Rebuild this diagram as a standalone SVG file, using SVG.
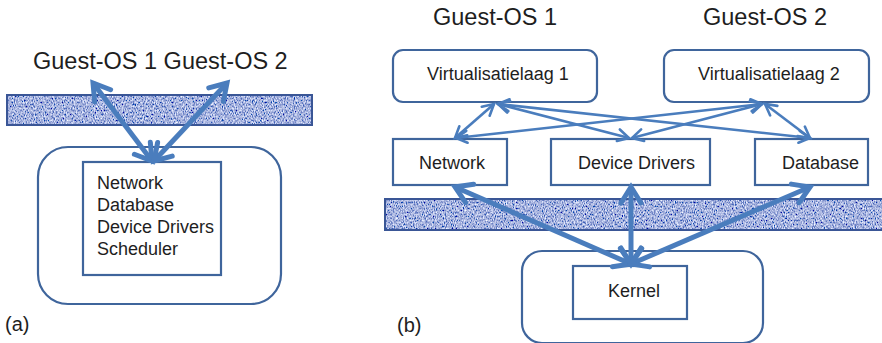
<svg xmlns="http://www.w3.org/2000/svg" width="882" height="343" viewBox="0 0 882 343">
  <style>
    text { font-family: "Liberation Sans", Arial, sans-serif; fill: #1e1e1e; }
    .lbl { font-size: 18px; }
    .big { font-size: 23.5px; }
    .box { fill: #ffffff; stroke: #3f659c; stroke-width: 2.2; }
    .layer { fill: #4f66b0; filter: url(#fabric); }
    .layer-edge { fill: none; stroke: #3a5696; stroke-width: 2; }
    .thick { fill: none; stroke: #4a7dbd; stroke-width: 5; marker-start: url(#headL); marker-end: url(#headL); }
    .thin { fill: none; stroke: #4a7dbd; stroke-width: 2.6; marker-start: url(#headS); marker-end: url(#headS); }
  </style>
  <defs>
    <!-- woven-looking texture for the isolation layers -->
    <filter id="fabric" x="0" y="0" width="100%" height="100%">
      <feTurbulence type="fractalNoise" baseFrequency="0.9 0.5" numOctaves="2" seed="7" result="noise"/>
      <feColorMatrix in="noise" type="matrix" values="1.6 0 0 0 -0.42  1.55 0 0 0 -0.33  1.15 0 0 0 0.15  0 0 0 0 1" result="tint"/>
      <feComposite in="tint" in2="SourceGraphic" operator="in"/>
    </filter>
    <marker id="headL" markerUnits="userSpaceOnUse" viewBox="-22 -14 26 28" refX="0" refY="0" markerWidth="26" markerHeight="28" orient="auto-start-reverse" overflow="visible">
      <path d="M-16,-10 L0,0 L-16,10" fill="none" stroke="#4a7dbd" stroke-width="5" stroke-linejoin="miter" stroke-linecap="round"/>
    </marker>
    <marker id="headS" markerUnits="userSpaceOnUse" viewBox="-14 -8 16 16" refX="0" refY="0" markerWidth="16" markerHeight="16" orient="auto-start-reverse" overflow="visible">
      <path d="M-11,-6 L0,0 L-11,6" fill="none" stroke="#4a7dbd" stroke-width="2.6" stroke-linejoin="miter" stroke-linecap="round"/>
    </marker>
  </defs>

  <!-- (a): monolithic kernel -->
  <g id="a-guests">
    <text class="big" x="33" y="69" font-size="24">Guest-OS 1 Guest-OS 2</text>
  </g>
  <g id="a-layer">
    <rect class="layer" x="7" y="95" width="305" height="30"/>
    <rect class="layer-edge" x="7" y="95" width="305" height="30"/>
  </g>
  <g id="a-host">
    <rect class="box" x="38" y="147" width="243" height="157" rx="30" ry="30"/>
  </g>
  <g id="a-services">
    <rect class="box" x="83" y="162" width="138" height="113"/>
    <text class="lbl" x="97" y="189">Network</text>
    <text class="lbl" x="97" y="211">Database</text>
    <text class="lbl" x="97" y="233">Device Drivers</text>
    <text class="lbl" x="97" y="255">Scheduler</text>
  </g>
  <g id="a-caption">
    <text x="5" y="331" font-size="20">(a)</text>
  </g>

  <!-- (b): per-guest virtualisation layers over shared services -->
  <g id="b-guest1">
    <text class="big" x="433" y="25">Guest-OS 1</text>
  </g>
  <g id="b-guest2">
    <text class="big" x="703" y="25">Guest-OS 2</text>
  </g>
  <g id="b-virt1">
    <rect class="box" x="393" y="50" width="204" height="52" rx="10" ry="10"/>
    <text class="lbl" x="427" y="80">Virtualisatielaag 1</text>
  </g>
  <g id="b-virt2">
    <rect class="box" x="664" y="50" width="205" height="52" rx="10" ry="10"/>
    <text class="lbl" x="698" y="80">Virtualisatielaag 2</text>
  </g>
  <g id="b-layer">
    <rect class="layer" x="385" y="199" width="500" height="31"/>
    <rect class="layer-edge" x="385" y="199" width="500" height="31"/>
  </g>
  <g id="b-network">
    <rect class="box" x="393" y="139" width="114" height="46"/>
    <text class="lbl" x="419" y="169">Network</text>
  </g>
  <g id="b-drivers">
    <rect class="box" x="551" y="139" width="159" height="46"/>
    <text class="lbl" x="578" y="169">Device Drivers</text>
  </g>
  <g id="b-database">
    <rect class="box" x="755" y="139" width="113" height="46"/>
    <text class="lbl" x="782" y="169">Database</text>
  </g>
  <g id="b-host">
    <rect class="box" x="522" y="251" width="241" height="92" rx="20" ry="20"/>
  </g>
  <g id="b-kernel">
    <rect class="box" x="573" y="266" width="114" height="53"/>
    <text class="lbl" x="608" y="297">Kernel</text>
  </g>
  <g id="b-caption">
    <text x="397" y="332" font-size="20">(b)</text>
  </g>

  <!-- connectors -->
  <g id="connectors">
    <line class="thick" x1="93" y1="83" x2="152" y2="161"/>
    <line class="thick" x1="227" y1="83" x2="154" y2="161"/>

    <line class="thin" x1="494" y1="104" x2="455" y2="138"/>
    <line class="thin" x1="498" y1="104" x2="629" y2="138"/>
    <line class="thin" x1="498" y1="104" x2="810" y2="138"/>
    <line class="thin" x1="762" y1="104" x2="456" y2="138"/>
    <line class="thin" x1="762" y1="104" x2="632" y2="138"/>
    <line class="thin" x1="765" y1="104" x2="810" y2="138"/>

    <line class="thick" x1="631" y1="264" x2="455" y2="187"/>
    <line class="thick" x1="631" y1="264" x2="631" y2="187"/>
    <line class="thick" x1="631" y1="264" x2="810" y2="187"/>
  </g>
</svg>
